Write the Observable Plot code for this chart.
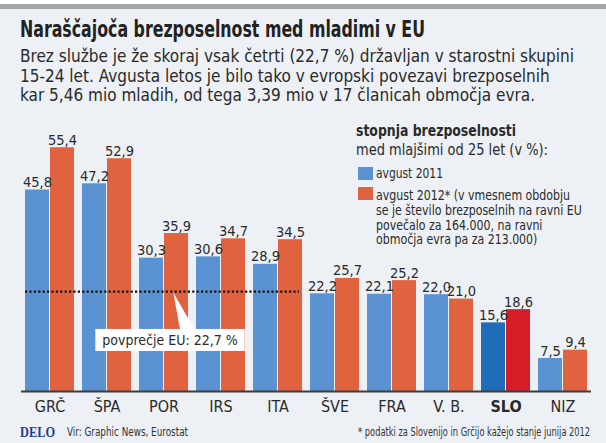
<!DOCTYPE html>
<html><head><meta charset="utf-8">
<script src="https://cdn.jsdelivr.net/npm/d3@7"></script>
<script src="https://cdn.jsdelivr.net/npm/@observablehq/plot@0.6"></script>
<style>
body{margin:0;background:#fff;}
#wrap{position:relative;width:606px;height:443px;background:#edf1f5;overflow:hidden;font-family:"DejaVu Sans Condensed","DejaVu Sans",sans-serif;color:#2a2a2a;}
#wrap div{white-space:nowrap;}
#topwhite{position:absolute;left:0;top:0;width:606px;height:4px;background:#fff;}
#topbar{position:absolute;left:0;top:4px;width:606px;height:5px;background:#a5a5a5;}
#title{position:absolute;left:20px;top:17px;font-size:23px;font-weight:bold;line-height:24px;color:#222;}
#sub{position:absolute;left:20px;top:46px;font-size:18px;line-height:19.6px;color:#2a2a2a;}
#chart{position:absolute;left:0;top:112px;}
.lg{position:absolute;left:356px;color:#2a2a2a;}
.lgh1{font-size:15.5px;font-weight:bold;line-height:18px;}
.lgh2{font-size:15.5px;line-height:18px;}
.item{font-size:13.5px;line-height:14px;}
.sw{position:absolute;width:15px;height:13px;}
#foot1{position:absolute;left:20px;top:424px;font-family:"Liberation Serif","DejaVu Serif",serif;font-weight:bold;font-size:15px;color:#1f3f8f;}
#foot2{position:absolute;left:67px;top:425px;font-size:12px;color:#333;}
#foot3{position:absolute;right:16px;top:425px;font-size:12px;color:#333;}
</style>
</head><body>
<div id="wrap">
  <div id="topwhite"></div><div id="topbar"></div>
  <div id="title">Naraščajoča brezposelnost med mladimi v EU</div>
  <div id="sub">Brez službe je že skoraj vsak četrti (22,7 %) državljan v starostni skupini<br>15-24 let. Avgusta letos je bilo tako v evropski povezavi brezposelnih<br>kar 5,46 mio mladih, od tega 3,39 mio v 17 članicah območja evra.</div>
  <div id="chart"></div>
  <div id="foot1">DELO</div>
  <div id="foot2">Vir: Graphic News, Eurostat</div>
  <div id="foot3">* podatki za Slovenijo in Grčijo kažejo stanje junija 2012</div>
</div>
<script>
const countries = ["GRČ","ŠPA","POR","IRS","ITA","ŠVE","FRA","V. B.","SLO","NIZ"];
const aug2011 = [45.8,47.2,30.3,30.6,28.9,22.2,22.1,22.0,15.6,7.5];
const aug2012 = [55.4,52.9,35.9,34.7,34.5,25.7,25.2,21.0,18.6,9.4];
const euAverage = 22.7;
const euLabel = "povprečje EU: 22,7 %";
const legendTitle = ["stopnja brezposelnosti","med mlajšimi od 25 let (v %):"];
const legend2011 = "avgust 2011";
const legend2012 = ["avgust 2012* (v vmesnem obdobju","se je število brezposelnih na ravni EU","povečalo za 164.000, na ravni","območja evra pa za 213.000)"];
const highlight = "SLO";

const colors = {c2011:"#5a92d2", c2012:"#e0623f", c2011h:"#1f6cb9", c2012h:"#d51d28"};

const rows2011 = countries.map((c,i)=>({country:c, value:aug2011[i], key: c===highlight?"2011h":"2011"}));
const rows2012 = countries.map((c,i)=>({country:c, value:aug2012[i], key: c===highlight?"2012h":"2012"}));
const fmt = v => v.toFixed(1).replace(".", ",");
const font = '"DejaVu Sans Condensed","DejaVu Sans",sans-serif';

const chart = Plot.plot({
  width: 606, height: 310,
  marginLeft: 21, marginRight: 15, marginTop: 15, marginBottom: 31,
  style: {background: "transparent", fontFamily: font, fontSize: "16px", color: "#2a2a2a"},
  x: {domain: countries, paddingInner: 0.136, paddingOuter: 0, label: null, tickSize: 0, tickPadding: 9},
  y: {domain: [0, 60], axis: null},
  color: {domain: ["2011","2012","2011h","2012h"], range: [colors.c2011, colors.c2012, colors.c2011h, colors.c2012h]},
  marks: [
    Plot.barY(rows2011, {x: "country", y: "value", fill: "key", insetRight: 25}),
    Plot.barY(rows2012, {x: "country", y: "value", fill: "key", insetLeft: 25}),
    Plot.ruleY([0], {stroke: "#3d3d3d", strokeWidth: 2}),
    Plot.ruleY([euAverage], {x1: () => "GRČ", x2: () => "ITA", insetRight: 3, stroke: "#111", strokeWidth: 2.3, strokeDasharray: "2.2,2.2"}),
    Plot.text(rows2011, {x: "country", y: "value", text: d => fmt(d.value), dx: -12.5, dy: -3, lineAnchor: "bottom", fontSize: 14.5, fill: "#2a2a2a"}),
    Plot.text(rows2012, {x: "country", y: "value", text: d => fmt(d.value), dx: 12.5, dy: -3, lineAnchor: "bottom", fontSize: 14.5, fill: "#2a2a2a", fontWeight: d => d.country===highlight?"bold":"normal"}),
    Plot.text([euLabel], {x: () => "POR", y: () => 11.6, text: d => d, dx: 6, fontSize: 14, fill: "#2a2a2a", className: "eulabel"})
  ]
});
document.getElementById("chart").appendChild(chart);

// bold the highlighted tick label
d3.select(chart).selectAll("text").filter(function(){ return this.textContent === highlight; }).style("font-weight","bold");

// callout box + pointer, positioned with the chart's own scales
const xs = chart.scale("x"), ys = chart.scale("y");
const labG = chart.querySelector(".eulabel");
const lab = labG && labG.querySelector("text");
if (lab) {
  const sr = chart.getBoundingClientRect();
  const r = lab.getBoundingClientRect();
  const bx = r.left - sr.left, by = r.top - sr.top;
  const padX = 7, padY = 3;
  const x0 = xs.apply("POR"), bw = xs.bandwidth;
  const boxTop = by - padY;
  const NS = "http://www.w3.org/2000/svg";
  const g = document.createElementNS(NS, "g");
  const ptr = document.createElementNS(NS, "path");
  ptr.setAttribute("d", `M${x0 + bw*0.7},${ys.apply(euAverage)+1.5} L${x0 + bw*0.84},${boxTop+1} L${x0 + bw*1.14},${boxTop+1} Z`);
  ptr.setAttribute("fill", "#fff");
  const rect = document.createElementNS(NS, "rect");
  rect.setAttribute("x", bx - padX); rect.setAttribute("y", boxTop);
  rect.setAttribute("width", r.width + 2*padX); rect.setAttribute("height", r.height + 2*padY);
  rect.setAttribute("fill", "#fff");
  g.appendChild(ptr); g.appendChild(rect);
  labG.parentNode.insertBefore(g, labG);
}

// legend
const wrap = document.getElementById("wrap");
function addDiv(cls, top, html, left) {
  const d = document.createElement("div");
  d.className = cls; d.style.top = top + "px";
  if (left != null) d.style.left = left + "px";
  d.innerHTML = html; wrap.appendChild(d); return d;
}
const lt1 = addDiv("lg lgh1", 122, legendTitle[0]);
const lt2 = addDiv("lg lgh2", 140.5, legendTitle[1]);
const sw1 = addDiv("sw", 167, "", 358); sw1.style.background = colors.c2011;
const it1 = addDiv("lg item", 166, legend2011, 376);
const sw2 = addDiv("sw", 187, "", 358); sw2.style.background = colors.c2012;
const it2 = legend2012.map((t, i) => addDiv("lg item", 188 + i * 14.8, t, 376));

// condense text blocks to the reference widths (measured on the text itself)
function textWidth(el) {
  const rg = document.createRange(); rg.selectNodeContents(el);
  return rg.getBoundingClientRect().width;
}
function fit(el, target, origin) {
  const w = textWidth(el);
  el.style.transformOrigin = (origin || "left") + " top";
  el.style.transform = `scaleX(${target / w})`;
}
fit(document.getElementById("title"), 405);
fit(document.getElementById("sub"), 554);
fit(lt1, 160);
fit(lt2, 192);
fit(it1, 67);
const k2 = 194 / textWidth(it2[0]);
it2.forEach(el => { el.style.transformOrigin = "left top"; el.style.transform = `scaleX(${k2})`; });
fit(document.getElementById("foot1"), 35);
fit(document.getElementById("foot2"), 121);
fit(document.getElementById("foot3"), 232, "right");
</script>
</body></html>
